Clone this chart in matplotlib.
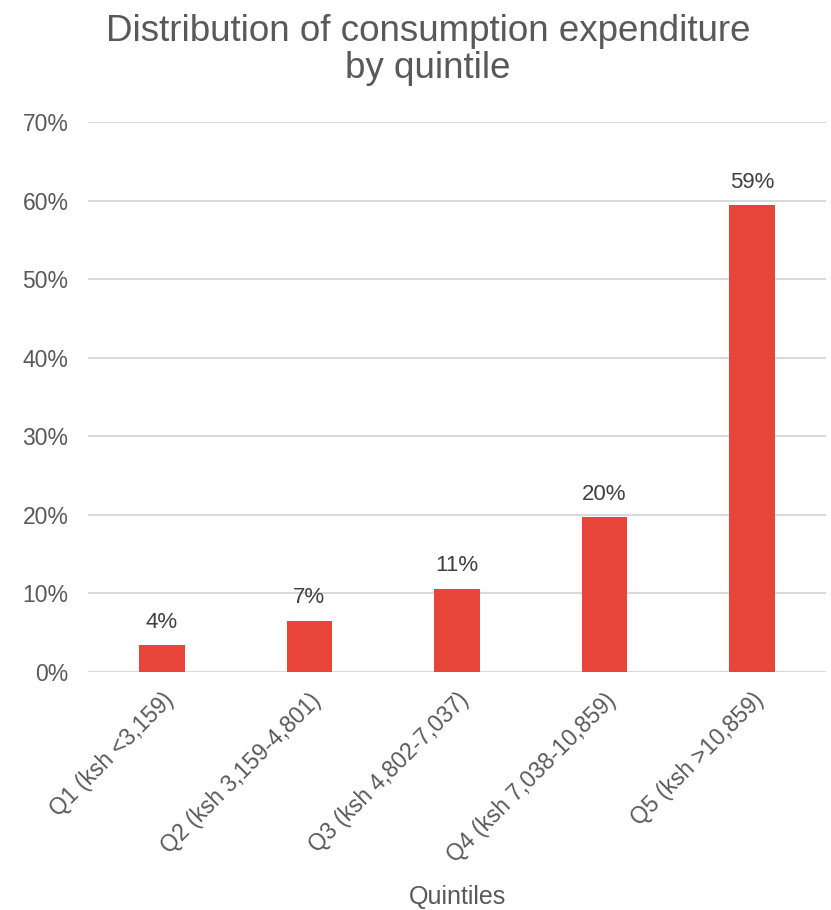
import matplotlib
matplotlib.use("Agg")
import matplotlib.pyplot as plt
from matplotlib.ticker import FuncFormatter

categories = ["Q1 (ksh <3,159)", "Q2 (ksh 3,159-4,801)", "Q3 (ksh 4,802-7,037)",
              "Q4 (ksh 7,038-10,859)", "Q5 (ksh >10,859)"]
values = [0.034, 0.065, 0.106, 0.197, 0.594]
labels = ["4%", "7%", "11%", "20%", "59%"]

plt.rcParams['font.family'] = ['Liberation Sans', 'DejaVu Sans']
fig = plt.figure(figsize=(8.31, 9.10), dpi=100)
ax = fig.add_axes([88/831, 1-672/910, (826-88)/831, (672-122)/910])

x = list(range(len(categories)))
bars = ax.bar(x, values, width=0.31, color="#E8443A", zorder=3)
for xi, v, lab in zip(x, values, labels):
    ax.annotate(lab, (xi, v), xytext=(0, 9), textcoords="offset points",
                ha="center", va="bottom", fontsize=16, color="#404040")

ax.set_xlim(-0.5, 4.5)
ax.set_ylim(0, 0.7)
ax.set_yticks([i/10 for i in range(8)])
ax.yaxis.set_major_formatter(FuncFormatter(lambda v, p: f"{v*100:.0f}%"))
ax.grid(axis="y", color="#D9D9D9", linewidth=1.5, zorder=0)
for s in ax.spines.values():
    s.set_visible(False)
ax.tick_params(axis="both", length=0, labelsize=16.5, labelcolor="#595959")
ax.tick_params(axis="y", pad=14)
ax.set_xticks(x)
ax.set_xticklabels(categories, rotation=45, ha="right", rotation_mode="anchor")
ax.tick_params(axis="x", pad=12)

fig.text(428/831, 1-50/910, "Distribution of consumption expenditure\nby quintile",
         ha="center", va="center", fontsize=26.5, color="#595959", linespacing=1.05)
fig.text(457/831, 1-897/910, "Quintiles", ha="center", va="center",
         fontsize=18, color="#595959")

fig.savefig("out.png", dpi=100)
